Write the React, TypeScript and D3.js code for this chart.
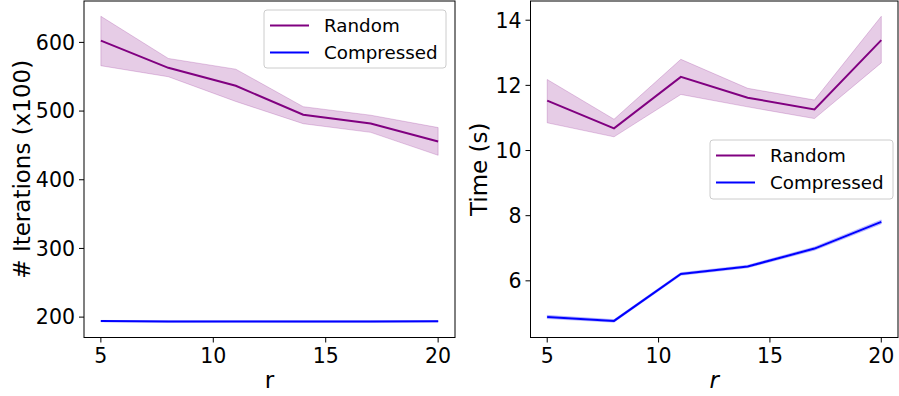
import React from "react";
import * as d3 from "d3";

const rValues = [5, 8, 11, 14, 17, 20];

const iterRandomMean = [602.5, 563, 536.8, 494.7, 482, 455.8];
const iterRandomUpper = [638, 576.6, 561, 506.4, 494, 476];
const iterRandomLower = [566, 550, 514, 481.6, 469, 435.6];
const iterCompMean = [194.2, 193.6, 193.8, 193.6, 193.6, 193.9];
const iterCompUpper = [195.2, 194.6, 194.8, 194.6, 194.6, 194.9];
const iterCompLower = [193.2, 192.6, 192.8, 192.6, 192.6, 192.9];

const timeRandomMean = [11.53, 10.68, 12.26, 11.62, 11.26, 13.39];
const timeRandomUpper = [12.18, 10.96, 12.8, 11.91, 11.55, 14.12];
const timeRandomLower = [10.85, 10.42, 11.72, 11.34, 10.98, 12.69];
const timeCompMean = [4.89, 4.77, 6.21, 6.44, 6.99, 7.81];
const timeCompUpper = [4.94, 4.81, 6.25, 6.48, 7.04, 7.87];
const timeCompLower = [4.84, 4.73, 6.17, 6.4, 6.94, 7.75];

const xTicks = [5, 10, 15, 20];
const iterTicks = [200, 300, 400, 500, 600];
const timeTicks = [6, 8, 10, 12, 14];
const seriesNames = ["Random", "Compressed"];
const seriesColors = ["#800080", "#0000ff"];

const FONT = "DejaVu Sans, sans-serif";

type Series = { mean: number[]; upper: number[]; lower: number[]; color: string };

function Panel(props: {
  left: number;
  right: number;
  top: number;
  bottom: number;
  series: Series[];
  yTicks: number[];
  ylabel: string;
  ylabelX: number;
  xItalic: boolean;
  legend: { x: number; y: number; w: number; h: number };
}) {
  const { left, right, top, bottom, series, yTicks, ylabel, ylabelX, xItalic, legend } = props;
  const xExt = d3.extent(rValues) as [number, number];
  const xPad = (xExt[1] - xExt[0]) * 0.05;
  const x = d3.scaleLinear().domain([xExt[0] - xPad, xExt[1] + xPad]).range([left, right]);
  const allY = series.flatMap((s) => [...s.upper, ...s.lower, ...s.mean]);
  const yMin = d3.min(allY)!;
  const yMax = d3.max(allY)!;
  const yPad = (yMax - yMin) * 0.05;
  const y = d3.scaleLinear().domain([yMin - yPad, yMax + yPad]).range([bottom, top]);

  const line = d3
    .line<number>()
    .x((_, i) => x(rValues[i]))
    .y((d) => y(d));

  const cy = (top + bottom) / 2;
  const cx = (left + right) / 2;

  return (
    <g>
      {series.map((s, k) => {
        const area = d3
          .area<number>()
          .x((_, i) => x(rValues[i]))
          .y0((_, i) => y(s.lower[i]))
          .y1((_, i) => y(s.upper[i]));
        return <path key={"a" + k} d={area(s.mean) || ""} fill={s.color} fillOpacity={0.2} stroke={s.color} strokeOpacity={0.2} strokeWidth={1} />;
      })}
      {series.map((s, k) => (
        <path key={"l" + k} d={line(s.mean) || ""} fill="none" stroke={s.color} strokeWidth={2} />
      ))}
      <rect x={left} y={top} width={right - left} height={bottom - top} fill="none" stroke="#000" strokeWidth={1} />
      {xTicks.map((t) => (
        <g key={"xt" + t}>
          <line x1={x(t)} x2={x(t)} y1={bottom} y2={bottom + 5} stroke="#000" strokeWidth={1} />
          <text x={x(t)} y={bottom + 25.5} textAnchor="middle" fontSize={20.5} fontFamily={FONT} fill="#000">
            {t}
          </text>
        </g>
      ))}
      {yTicks.map((t) => (
        <g key={"yt" + t}>
          <line x1={left - 5} x2={left} y1={y(t)} y2={y(t)} stroke="#000" strokeWidth={1} />
          <text x={left - 9} y={y(t) + 7.3} textAnchor="end" fontSize={20.5} fontFamily={FONT} fill="#000">
            {t}
          </text>
        </g>
      ))}
      <text x={cx} y={bottom + 50} textAnchor="middle" fontSize={23} fontFamily={FONT} fontStyle={xItalic ? "italic" : "normal"} fill="#000">
        r
      </text>
      <text transform={`translate(${ylabelX},${cy}) rotate(-90)`} textAnchor="middle" fontSize={23} fontFamily={FONT} fill="#000">
        {ylabel}
      </text>
      <rect x={legend.x} y={legend.y} width={legend.w} height={legend.h} rx={3} fill="#fff" fillOpacity={0.8} stroke="#cccccc" strokeWidth={1} />
      {seriesNames.map((n, i) => {
        const ly = legend.y + 15.5 + i * 27;
        return (
          <g key={n}>
            <line x1={legend.x + 6} x2={legend.x + 45} y1={ly} y2={ly} stroke={seriesColors[i]} strokeWidth={2} />
            <text x={legend.x + 60} y={ly + 6.5} fontSize={18.3} fontFamily={FONT} fill="#000">
              {n}
            </text>
          </g>
        );
      })}
    </g>
  );
}

export default function App() {
  const iterSeries: Series[] = [
    { mean: iterRandomMean, upper: iterRandomUpper, lower: iterRandomLower, color: seriesColors[0] },
    { mean: iterCompMean, upper: iterCompUpper, lower: iterCompLower, color: seriesColors[1] },
  ];
  const timeSeries: Series[] = [
    { mean: timeRandomMean, upper: timeRandomUpper, lower: timeRandomLower, color: seriesColors[0] },
    { mean: timeCompMean, upper: timeCompUpper, lower: timeCompLower, color: seriesColors[1] },
  ];
  return (
    <svg width={899} height={396} style={{ position: "absolute", left: 0, top: 0, background: "#fff" }}>
      <rect x={0} y={0} width={899} height={396} fill="#fff" />
      <Panel
        left={84}
        right={455}
        top={1}
        bottom={337.5}
        series={iterSeries}
        yTicks={iterTicks}
        ylabel="# Iterations (x100)"
        ylabelX={30}
        xItalic={false}
        legend={{ x: 264, y: 10, w: 182, h: 58 }}
      />
      <Panel
        left={530.5}
        right={898}
        top={1}
        bottom={337.5}
        series={timeSeries}
        yTicks={timeTicks}
        ylabel="Time (s)"
        ylabelX={487}
        xItalic={true}
        legend={{ x: 710, y: 140, w: 183, h: 59 }}
      />
    </svg>
  );
}
